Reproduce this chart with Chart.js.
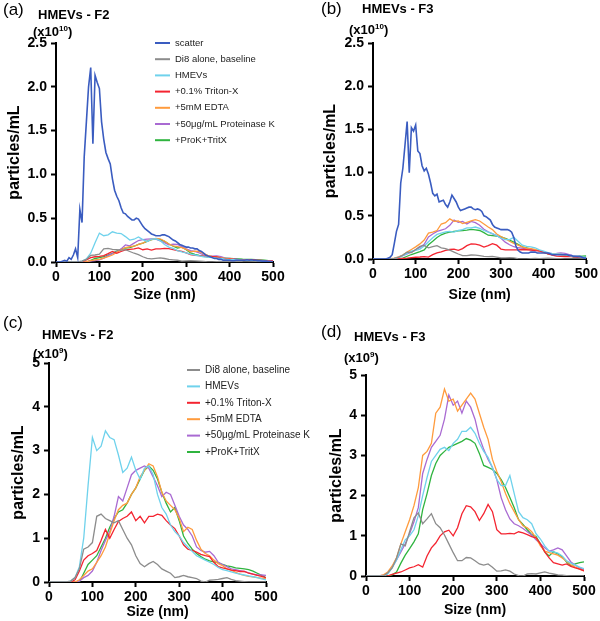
<!DOCTYPE html>
<html>
<head>
<meta charset="utf-8">
<script src="https://cdn.jsdelivr.net/npm/chart.js@4"></script>
<style>
  body { margin: 0; background: #fff; }
  #fig { position: relative; width: 600px; height: 621px; font-family: "Liberation Sans", Arial, sans-serif; color: #000; }
  #fig canvas { position: absolute; }
  .t { position: absolute; line-height: 1; white-space: nowrap; }
  .lab { font-size: 17px; }
  .ttl { font-size: 13px; font-weight: bold; }
  .sup { font-size: 8px; position: relative; top: -5px; }
</style>
</head>
<body>
<div id="fig">
  <canvas id="pa" width="300" height="310" style="left:0;top:0"></canvas>
  <canvas id="pb" width="300" height="310" style="left:300px;top:0"></canvas>
  <canvas id="pc" width="330" height="311" style="left:0;top:310px"></canvas>
  <canvas id="pd" width="300" height="311" style="left:300px;top:310px"></canvas>

  <div class="t lab" style="left:3px;top:1px">(a)</div>
  <div class="t ttl" style="left:38px;top:8px">HMEVs - F2</div>
  <div class="t ttl" style="left:33px;top:25px">(x10<span class="sup">10</span>)</div>

  <div class="t lab" style="left:321px;top:0px">(b)</div>
  <div class="t ttl" style="left:362px;top:2px">HMEVs - F3</div>
  <div class="t ttl" style="left:349px;top:23px">(x10<span class="sup">10</span>)</div>

  <div class="t lab" style="left:3px;top:314px">(c)</div>
  <div class="t ttl" style="left:42px;top:328px">HMEVs - F2</div>
  <div class="t ttl" style="left:33px;top:347px">(x10<span class="sup">9</span>)</div>

  <div class="t lab" style="left:321px;top:323px">(d)</div>
  <div class="t ttl" style="left:354px;top:330px">HMEVs - F3</div>
  <div class="t ttl" style="left:344px;top:351px">(x10<span class="sup">9</span>)</div>
</div>
<script>
// particle size bins (nm)
const sizes10 = [0,10,20,30,40,50,60,70,80,90,100,110,120,130,140,150,160,170,180,190,200,
  210,220,230,240,250,260,270,280,290,300,310,320,330,340,350,360,370,380,390,400,
  410,420,430,440,450,460,470,480,490,500];
const sizes5 = [0,5,10,15,20,25,30,35,40,45,50,55,60,65,70,75,80,85,90,95,100,
  105,110,115,120,125,130,135,140,145,150,155,160,165,170,175,180,185,190,195,200,
  205,210,215,220,225,230,235,240,245,250,255,260,265,270,275,280,285,290,295,300,
  305,310,315,320,325,330,335,340,345,350,355,360,365,370,375,380,385,390,395,400,
  405,410,415,420,425,430,435,440,445,450,455,460,465,470,475,480,485,490,495,500];

const seriesNames = ['scatter','Di8 alone, baseline','HMEVs','+0.1% Triton-X','+5mM EDTA','+50μg/mL Proteinase K','+ProK+TritX'];
const seriesColors = ['#3a5cc0','#8c8c8c','#6fd2ec','#f42430','#ff9b3d','#a96ad2','#2fb43f'];
const xTicks = [0,100,200,300,400,500];

// scatter (x10^10 particles/mL)
const f2Scatter = [0,0,0,0.01,0.02,0.01,0.05,0.03,0.08,0.15,
  0.05,0.6,0.45,1.2,1.6,2.0,2.22,1.35,2.13,2.05,
  1.98,1.6,1.4,1.25,1.18,1.12,0.95,0.82,0.75,0.7,
  0.62,0.56,0.55,0.52,0.5,0.48,0.48,0.5,0.49,0.45,
  0.41,0.38,0.36,0.34,0.32,0.31,0.3,0.3,0.3,0.31,
  0.31,0.3,0.29,0.27,0.25,0.24,0.22,0.2,0.19,0.18,
  0.17,0.17,0.16,0.16,0.15,0.15,0.13,0.12,0.1,0.08,
  0.07,0.06,0.05,0.04,0.04,0.03,0.03,0.02,0.02,0.02,
  0.02,0.015,0.015,0.02,0.02,0.02,0.02,0.02,0.025,0.02,
  0.025,0.02,0.02,0.015,0.015,0.01,0.01,0.01,0.005,0.005,0];
const f3Scatter = [0,0,0,0,0,0,0,0.01,0.02,0.05,
  0.18,0.32,0.4,0.88,1.05,1.32,1.59,1.0,1.52,1.48,
  1.55,1.25,1.22,1.08,1.02,1.05,0.98,0.88,0.76,0.73,
  0.75,0.66,0.67,0.68,0.63,0.6,0.66,0.74,0.7,0.66,
  0.6,0.56,0.57,0.58,0.59,0.6,0.6,0.58,0.57,0.58,
  0.57,0.55,0.5,0.49,0.47,0.45,0.4,0.37,0.36,0.35,
  0.34,0.34,0.34,0.34,0.33,0.31,0.25,0.15,0.1,0.08,
  0.07,0.07,0.07,0.07,0.08,0.08,0.08,0.07,0.07,0.07,
  0.07,0.07,0.07,0.06,0.05,0.05,0.05,0.05,0.05,0.05,
  0.05,0.05,0.04,0.04,0.03,0.03,0.03,0.03,0.02,0.01,0.01];

// fluorescence F2 (x10^9 particles/mL)
const f2Di8 = [0,0,0,0,0,0.02,0.1,0.3,0.75,0.8,0.9,1.5,1.55,1.45,1.4,1.35,1.4,1.2,1.0,0.85,0.6,
  0.42,0.35,0.42,0.47,0.4,0.3,0.25,0.2,0.1,0.12,0.15,0.12,0.1,0.08,0.02,0,0.04,0.05,0.06,0.08,
  0.1,0.06,0.03,0.02,0.01,0,0,0,0,0];
const f2Hmevs = [0,0,0,0,0,0.02,0.1,0.35,1.0,2.2,3.3,3.0,3.1,3.45,3.3,3.25,2.9,2.5,2.6,2.85,2.55,
  2.35,2.6,2.65,2.45,2.0,1.7,1.55,1.3,1.15,1.05,0.9,0.8,0.7,0.6,0.55,0.5,0.45,0.4,0.33,0.28,
  0.26,0.23,0.2,0.18,0.16,0.14,0.12,0.1,0.07,0.05];
const f2Triton = [0,0,0,0,0,0,0.05,0.25,0.5,0.6,0.65,0.72,0.95,1.2,1.0,1.2,1.38,1.45,1.5,1.6,1.4,
  1.5,1.35,1.5,1.5,1.55,1.52,1.4,1.3,1.22,1.05,0.85,0.75,0.72,0.68,0.63,0.6,0.58,0.45,0.35,0.32,
  0.3,0.27,0.26,0.24,0.24,0.2,0.18,0.15,0.13,0.1];
const f2Edta = [0,0,0,0,0,0,0,0.05,0.15,0.25,0.3,0.45,0.6,0.8,1.1,1.4,1.65,1.75,1.8,2.0,2.15,
  2.4,2.55,2.7,2.65,2.4,2.05,1.85,1.75,1.65,1.45,1.15,1.25,1.2,0.95,0.75,0.65,0.6,0.5,0.42,0.37,
  0.3,0.27,0.22,0.18,0.15,0.13,0.12,0.1,0.09,0.07];
const f2ProK = [0,0,0,0,0,0,0,0.02,0.1,0.15,0.25,0.45,0.72,0.95,1.15,1.5,1.95,1.85,2.15,2.45,2.55,
  2.6,2.65,2.6,2.4,2.2,1.95,2.05,2.0,1.75,1.5,1.3,1.2,1.05,0.8,0.72,0.68,0.7,0.6,0.45,0.4,
  0.35,0.3,0.28,0.26,0.24,0.21,0.18,0.16,0.16,0.15];
const f2ProKTrit = [0,0,0,0,0,0,0,0,0.2,0.4,0.5,0.6,0.8,1.0,1.25,1.45,1.6,1.65,1.8,2.0,2.15,
  2.35,2.55,2.65,2.55,2.35,2.05,1.8,1.6,1.7,1.4,1.05,0.88,0.75,0.65,0.58,0.52,0.48,0.46,0.44,0.4,
  0.37,0.35,0.32,0.31,0.3,0.28,0.25,0.2,0.15,0.1];

// fluorescence F3 (x10^9 particles/mL)
const f3Di8 = [0,0,0,0,0,0.08,0.2,0.45,0.8,0.75,1.1,1.45,1.57,1.3,1.42,1.55,1.3,1.2,1.02,0.8,0.58,
  0.38,0.38,0.46,0.45,0.38,0.3,0.27,0.3,0.22,0.12,0.13,0.15,0.12,0.05,0.01,0,0.05,0.06,0.05,0.08,
  0.1,0.07,0.05,0.03,0.02,0.01,0,0,0,0];
const f3Hmevs = [0,0,0,0,0,0.05,0.2,0.4,0.65,0.9,1.0,1.15,1.5,2.0,2.45,2.85,3.0,3.15,3.2,3.12,3.3,
  3.4,3.6,3.6,3.7,3.55,3.3,3.1,2.95,2.7,2.4,2.25,2.25,2.5,2.05,1.6,1.45,1.4,1.3,1.05,0.92,
  0.75,0.62,0.6,0.57,0.5,0.38,0.32,0.27,0.22,0.18];
const f3Triton = [0,0,0,0,0,0,0.04,0.07,0.1,0.15,0.2,0.23,0.28,0.22,0.5,0.7,0.82,1.0,1.1,1.14,1.0,
  1.2,1.55,1.75,1.72,1.6,1.38,1.55,1.78,1.6,1.15,1.05,1.05,1.06,1.05,1.1,1.07,1.03,0.98,0.95,0.8,
  0.6,0.45,0.33,0.3,0.27,0.3,0.24,0.2,0.17,0.13];
const f3Edta = [0,0,0,0,0.03,0.1,0.25,0.45,0.8,1.1,1.4,1.75,2.2,3.0,3.1,3.3,4.05,4.2,4.65,4.35,4.4,
  4.1,4.25,4.4,4.55,4.4,4.05,3.7,3.4,2.9,2.6,2.35,2.05,1.8,1.6,1.4,1.25,1.2,1.1,0.95,0.75,
  0.62,0.58,0.55,0.52,0.45,0.37,0.28,0.22,0.17,0.13];
const f3ProK = [0,0,0,0,0.02,0.08,0.22,0.4,0.6,0.8,1.05,1.35,1.7,2.55,2.9,3.2,3.35,3.5,3.9,4.5,4.25,
  4.35,4.05,4.35,4.2,3.9,3.45,3.15,2.9,2.7,2.4,1.95,1.65,1.42,1.3,1.25,1.18,1.1,1.02,0.9,0.8,
  0.7,0.62,0.65,0.7,0.65,0.5,0.35,0.27,0.2,0.15];
const f3ProKTrit = [0,0,0,0,0,0,0.03,0.1,0.32,0.52,0.68,0.85,1.05,1.65,2.05,2.5,2.8,3.0,3.1,3.2,3.25,
  3.3,3.35,3.42,3.38,3.3,3.05,2.75,2.7,2.65,2.55,2.4,2.2,1.95,1.7,1.4,1.28,1.15,1.03,0.98,0.8,
  0.6,0.5,0.6,0.55,0.48,0.35,0.25,0.3,0.33,0.35];

const FONT = '"Liberation Sans", Arial, sans-serif';

function pts(xs, ys, scale) {
  return xs.map((x, i) => ({x: x, y: ys[i] * scale}));
}

function ds(idx, xs, ys, scale) {
  return {
    label: seriesNames[idx],
    data: pts(xs, ys, scale),
    borderColor: seriesColors[idx],
    borderWidth: idx === 0 ? 1.6 : 1.3,
    pointRadius: 0,
    tension: 0,
    fill: false
  };
}

// legend drawn inside the panel
const panelLegend = {
  id: 'panelLegend',
  afterDraw(chart, args, opts) {
    if (!opts.show) return;
    const ctx = chart.ctx;
    ctx.save();
    ctx.font = opts.size + 'px ' + FONT;
    ctx.textBaseline = 'middle';
    chart.data.datasets.forEach((d, i) => {
      const y = opts.y + i * opts.gap;
      ctx.strokeStyle = d.borderColor;
      ctx.lineWidth = 2;
      ctx.beginPath();
      ctx.moveTo(opts.x, y);
      ctx.lineTo(opts.x + opts.len, y);
      ctx.stroke();
      ctx.fillStyle = '#222';
      ctx.fillText(d.label, opts.x + opts.len + 5, y);
    });
    ctx.restore();
  }
};

function makePanel(id, datasets, g) {
  const cv = document.getElementById(id);
  const W = cv.width, H = cv.height;
  return new Chart(cv, {
    type: 'line',
    data: {datasets: datasets},
    options: {
      responsive: false,
      animation: false,
      devicePixelRatio: 1,
      layout: {padding: {left: 0, top: g.top, right: W - g.right, bottom: 0}},
      plugins: {
        legend: {display: false},
        tooltip: {enabled: false},
        panelLegend: g.legend
      },
      scales: {
        x: {
          type: 'linear', min: 0, max: 500,
          afterBuildTicks: s => { s.ticks = xTicks.map(v => ({value: v})); },
          ticks: {font: {family: FONT, size: 14, weight: 'bold'}, color: '#000', padding: 2, maxRotation: 0},
          grid: {drawOnChartArea: false, drawTicks: true, tickLength: 5, tickWidth: 2, tickColor: '#000'},
          border: {display: true, color: '#000', width: 2},
          title: {display: true, text: 'Size (nm)', color: '#000',
                  font: {family: FONT, size: 14, weight: 'bold'}, padding: {top: 0, bottom: g.xtp}},
          afterFit: s => { s.height = H - g.bottom; }
        },
        y: {
          min: 0, max: g.ymax,
          ticks: {stepSize: g.ystep, font: {family: FONT, size: 14, weight: 'bold'}, color: '#000', padding: 4,
                  callback: v => g.ystep < 1 ? v.toFixed(1) : v},
          grid: {drawOnChartArea: false, drawTicks: true, tickLength: 5, tickWidth: 2, tickColor: '#000'},
          border: {display: true, color: '#000', width: 2},
          title: {display: true, text: 'particles/mL', color: '#000',
                  font: {family: FONT, size: 16, weight: 'bold'}, padding: {top: g.ytp, bottom: 0}},
          afterFit: s => { s.width = g.left; }
        }
      }
    },
    plugins: [panelLegend]
  });
}

makePanel('pa', [
  ds(0, sizes5, f2Scatter, 1),
  ds(1, sizes10, f2Di8, 0.1),
  ds(2, sizes10, f2Hmevs, 0.1),
  ds(3, sizes10, f2Triton, 0.1),
  ds(4, sizes10, f2Edta, 0.1),
  ds(5, sizes10, f2ProK, 0.1),
  ds(6, sizes10, f2ProKTrit, 0.1)
], {left: 56, right: 273, top: 43, bottom: 262, ymax: 2.5, ystep: 0.5, ytp: 5.4, xtp: 6.6,
    legend: {show: true, x: 155, y: 43, gap: 16.2, len: 15, size: 9.5}});

makePanel('pb', [
  ds(0, sizes5, f3Scatter, 1),
  ds(1, sizes10, f3Di8, 0.1),
  ds(2, sizes10, f3Hmevs, 0.1),
  ds(3, sizes10, f3Triton, 0.1),
  ds(4, sizes10, f3Edta, 0.1),
  ds(5, sizes10, f3ProK, 0.1),
  ds(6, sizes10, f3ProKTrit, 0.1)
], {left: 73, right: 287, top: 43, bottom: 259, ymax: 2.5, ystep: 0.5, ytp: 21.4, xtp: 6.6,
    legend: {show: false}});

makePanel('pc', [
  ds(1, sizes10, f2Di8, 1),
  ds(2, sizes10, f2Hmevs, 1),
  ds(3, sizes10, f2Triton, 1),
  ds(4, sizes10, f2Edta, 1),
  ds(5, sizes10, f2ProK, 1),
  ds(6, sizes10, f2ProKTrit, 1)
], {left: 49, right: 266, top: 53, bottom: 272, ymax: 5, ystep: 1, ytp: 9.4, xtp: 0.6,
    legend: {show: true, x: 187, y: 60, gap: 16.4, len: 13, size: 10}});

makePanel('pd', [
  ds(1, sizes10, f3Di8, 1),
  ds(2, sizes10, f3Hmevs, 1),
  ds(3, sizes10, f3Triton, 1),
  ds(4, sizes10, f3Edta, 1),
  ds(5, sizes10, f3ProK, 1),
  ds(6, sizes10, f3ProKTrit, 1)
], {left: 66, right: 284, top: 65, bottom: 266, ymax: 5, ystep: 1, ytp: 27.4, xtp: 2.6,
    legend: {show: false}});
</script>
</body>
</html>
